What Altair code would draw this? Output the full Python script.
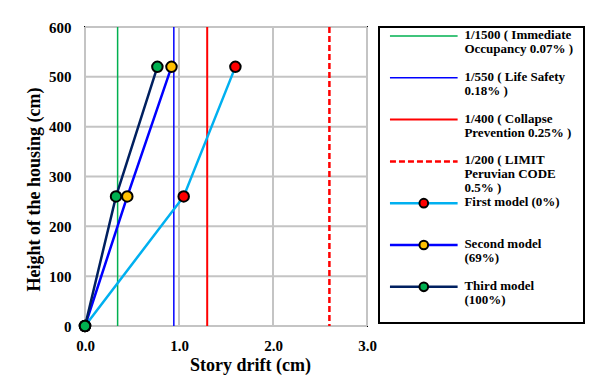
import altair as alt
import pandas as pd

# ---- data ----
heights = [0, 260, 520]
first_drift = [0.0, 1.05, 1.60]
second_drift = [0.0, 0.45, 0.92]
third_drift = [0.0, 0.33, 0.77]
series_names = ["First model (0%)", "Second model (69%)", "Third model (100%)"]
series_line_colors = ["#00b0f0", "#0000ff", "#002060"]
series_fill_colors = ["#ff0000", "#ffc000", "#00b050"]

limit_values = [0.347, 0.945, 1.30, 2.60]
limit_colors = ["#00b050", "#0000ff", "#ff0000", "#ff0000"]
limit_widths = [1.5, 1.5, 2, 2.5]
limit_dash = [None, None, None, [6, 3]]

legend_labels = [
    "1/1500 ( Immediate\nOccupancy 0.07% )",
    "1/550 ( Life Safety\n0.18% )",
    "1/400 ( Collapse\nPrevention 0.25% )",
    "1/200 ( LIMIT\nPeruvian CODE\n0.5% )",
    "First model (0%)",
    "Second model\n(69%)",
    "Third model\n(100%)",
]

x_ticks = [0, 1, 2, 3]
y_ticks = [0, 100, 200, 300, 400, 500, 600]

FONT = "Liberation Serif"
GRID = "#c4c4c4"

# ---- main plot ----
xs = alt.Scale(domain=[0, 3])
ys = alt.Scale(domain=[0, 600])
x_axis = alt.Axis(values=x_ticks, format=".1f", title="Story drift (cm)", grid=False,
                  ticks=False, domain=False, labelFlush=False,
                  labelFont=FONT, labelFontSize=15, labelFontWeight="bold", labelColor="black",
                  labelPadding=12, titleFont=FONT, titleFontSize=18, titleFontWeight="bold",
                  titleColor="black", titlePadding=3, titleX=165)
y_axis = alt.Axis(values=y_ticks, title="Height of the housing (cm)", grid=False,
                  ticks=False, domain=False, labelFlush=False,
                  labelFont=FONT, labelFontSize=15, labelFontWeight="bold", labelColor="black",
                  labelPadding=14, titleFont=FONT, titleFontSize=18, titleFontWeight="bold",
                  titleColor="black", titlePadding=5, titleY=162)
X = alt.X("drift:Q", scale=xs, axis=x_axis)
Y = alt.Y("h:Q", scale=ys, axis=y_axis)

layers = []
# vertical gridlines at the x tick values
layers.append(alt.Chart(pd.DataFrame({"drift": x_ticks})).mark_rule(
    color=GRID, strokeWidth=2, opacity=1).encode(x=X))
# horizontal gridlines at the y tick values (drawn as two-point lines)
hg_rows = []
for t in y_ticks:
    hg_rows.append({"drift": x_ticks[0], "h": t, "g": t})
    hg_rows.append({"drift": x_ticks[-1], "h": t, "g": t})
layers.append(alt.Chart(pd.DataFrame(hg_rows)).mark_line(
    color=GRID, strokeWidth=2, opacity=1).encode(x=X, y=Y, detail="g:N"))

for v, c, w, d in zip(limit_values, limit_colors, limit_widths, limit_dash):
    kw = dict(color=c, strokeWidth=w)
    if d:
        kw["strokeDash"] = d
    layers.append(alt.Chart(pd.DataFrame({"drift": [v]})).mark_rule(**kw).encode(x=X))

drifts = [first_drift, second_drift, third_drift]
for name, dr, lc in zip(series_names, drifts, series_line_colors):
    df = pd.DataFrame({"drift": dr, "h": heights, "o": list(range(len(heights)))})
    layers.append(alt.Chart(df).mark_line(color=lc, strokeWidth=2.5).encode(
        x=X, y=Y, order="o:O"))
for name, dr, fc in zip(series_names, drifts, series_fill_colors):
    df = pd.DataFrame({"drift": dr, "h": heights})
    layers.append(alt.Chart(df).mark_point(filled=True, fill=fc, stroke="black",
                                           strokeWidth=2, size=110, opacity=1).encode(
        x=X, y=Y))

plot = alt.layer(*layers).properties(width=282, height=299)

# ---- legend panel ----
lx = alt.Scale(domain=[-0.162, 2.868])
ly = alt.Scale(domain=[-0.215, 6.866], reverse=True)
leg_layers = []
entry_colors = limit_colors + series_line_colors
entry_widths = limit_widths + [2.5, 2.5, 2.5]
entry_dash = limit_dash + [None, None, None]
for i, (c, w, d) in enumerate(zip(entry_colors, entry_widths, entry_dash)):
    kw = dict(color=c, strokeWidth=w)
    if d:
        kw["strokeDash"] = d
    df = pd.DataFrame({"a": [0.0], "b": [1.0], "i": [i]})
    leg_layers.append(alt.Chart(df).mark_rule(**kw).encode(
        x=alt.X("a:Q", scale=lx, axis=None), x2="b:Q",
        y=alt.Y("i:Q", scale=ly, axis=None)))
for j, fc in enumerate(series_fill_colors):
    df = pd.DataFrame({"m": [0.5], "i": [4 + j]})
    leg_layers.append(alt.Chart(df).mark_point(filled=True, fill=fc, stroke="black",
                                               strokeWidth=2, size=75, opacity=1).encode(
        x=alt.X("m:Q", scale=lx, axis=None), y=alt.Y("i:Q", scale=ly, axis=None)))
txt_df = pd.DataFrame({"t": [1.1] * len(legend_labels), "i": list(range(len(legend_labels))),
                       "label": legend_labels})
leg_layers.append(alt.Chart(txt_df).mark_text(
    align="left", baseline="top", dy=-7, lineBreak="\n", lineHeight=14,
    font=FONT, fontSize=13, fontWeight="bold", color="black").encode(
    x=alt.X("t:Q", scale=lx, axis=None), y=alt.Y("i:Q", scale=ly, axis=None),
    text="label:N"))
legend = alt.layer(*leg_layers).properties(width=205, height=296)

chart = alt.hconcat(plot, legend, spacing=0).resolve_scale(
    x="independent", y="independent").properties(
    padding={"left": 24, "top": 19, "right": 5, "bottom": 5},
    background="white").configure_view(stroke="black", strokeWidth=2)

chart.save("out.html", embed_options={"renderer": "svg", "actions": False})
